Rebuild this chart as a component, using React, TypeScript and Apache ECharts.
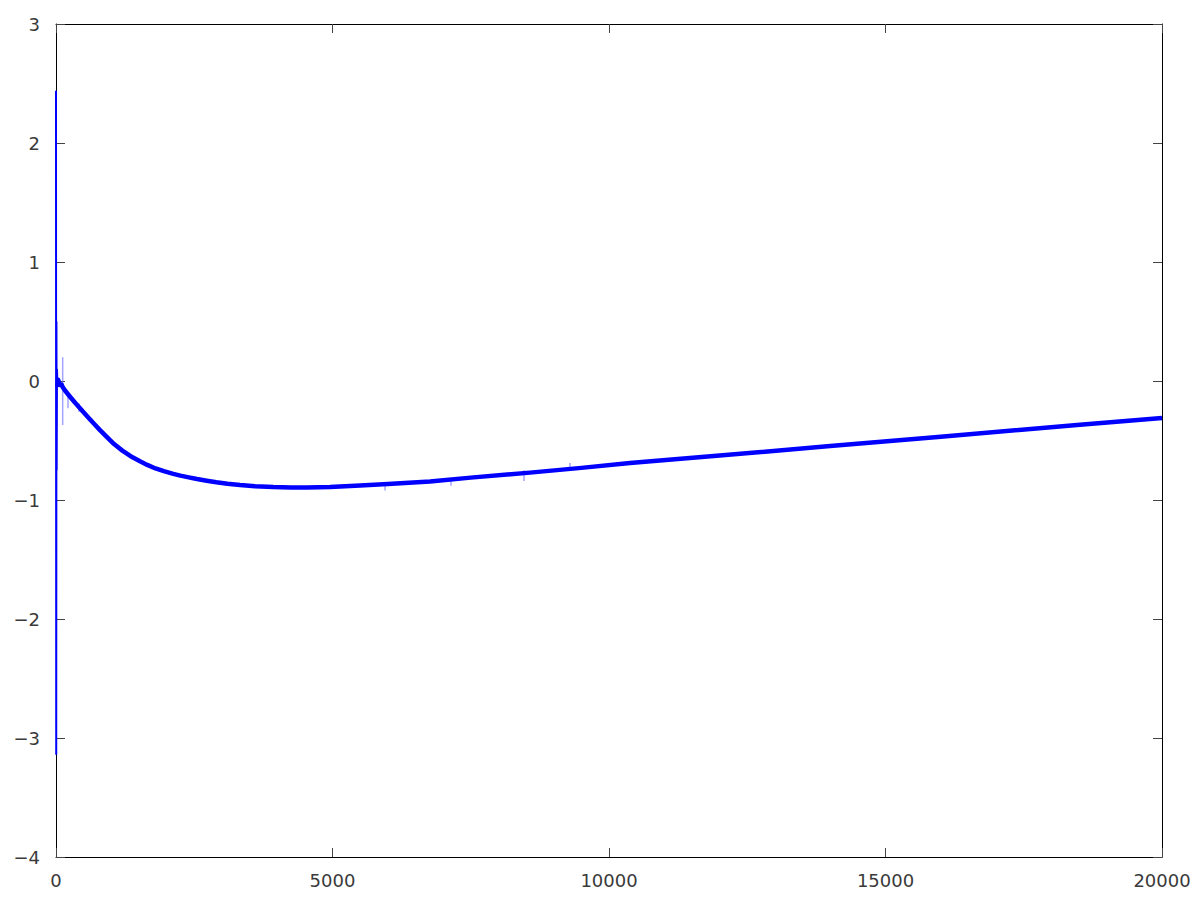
import React, { useEffect, useRef } from "react";
import * as echarts from "echarts";

const xTicks = { min: 0, max: 20000, interval: 5000 };
const yTicks = { min: -4, max: 3, interval: 1 };

// initial transient at x≈0 (thin)
const startSpike: [number, number][] = [
  [0, 2.44], [4, -3.14], [8, 0.5], [12, -0.75], [18, 0.1], [26, -0.05],
];

// main curve
const mainCurve: [number, number][] = [
  [26, -0.05], [40, 0.01], [60, -0.02], [80, -0.03], [100, -0.03], [120, -0.05],
  [163, -0.08], [250, -0.13], [350, -0.185], [494, -0.26], [600, -0.315], [700, -0.365],
  [800, -0.415], [917, -0.47], [1050, -0.53], [1200, -0.585], [1350, -0.632],
  [1519, -0.675], [1650, -0.705], [1800, -0.735], [1950, -0.758], [2121, -0.78],
  [2250, -0.795], [2400, -0.81], [2550, -0.824], [2725, -0.838], [2900, -0.851],
  [3100, -0.863], [3327, -0.874], [3600, -0.884], [3930, -0.891], [4250, -0.894],
  [4533, -0.894], [4955, -0.89], [5500, -0.879], [6000, -0.866], [6763, -0.845],
  [7500, -0.812], [8571, -0.77], [9500, -0.73], [10380, -0.69], [12000, -0.626],
  [14000, -0.547], [16000, -0.468], [18517, -0.368], [20000, -0.31],
];

// faint noise spikes
const noiseSpikes: ([number, number] | [number, string])[] = [
  [121, 0.2], [121, -0.37], [121, "-"],
  [217, -0.09], [217, -0.23], [217, "-"],
  [416, -0.19], [416, -0.26], [416, "-"],
  [5950, -0.87], [5950, -0.92], [5950, "-"],
  [7143, -0.82], [7143, -0.88], [7143, "-"],
  [8463, -0.75], [8463, -0.84], [8463, "-"],
  [9295, -0.69], [9295, -0.73],
];

const fmt = (v: number) => String(v).replace("-", "\u2212");

export default function App() {
  const ref = useRef<HTMLDivElement>(null);
  useEffect(() => {
    if (!ref.current) return;
    const chart = echarts.init(ref.current, undefined, { renderer: "svg" });
    const label = {
      color: "#3a3a3a",
      fontSize: 18,
      fontFamily: "DejaVu Sans",
      formatter: fmt,
    };
    const line = { show: true, lineStyle: { color: "#000", width: 1 } };
    const tick = { show: true, inside: true, length: 9, lineStyle: { color: "#444", width: 1 } };
    chart.setOption({
      animation: false,
      backgroundColor: "#fff",
      grid: { left: 56, right: 38, top: 24, bottom: 43, containLabel: false },
      xAxis: [
        {
          type: "value", ...xTicks, position: "bottom",
          axisLine: { ...line, onZero: false }, axisTick: tick,
          axisLabel: { ...label, margin: 14 }, splitLine: { show: false },
        },
        {
          type: "value", ...xTicks, position: "top",
          axisLine: { ...line, onZero: false }, axisTick: tick,
          axisLabel: { show: false }, splitLine: { show: false },
        },
      ],
      yAxis: [
        {
          type: "value", ...yTicks, position: "left",
          axisLine: { ...line, onZero: false }, axisTick: tick,
          axisLabel: { ...label, margin: 16 }, splitLine: { show: false },
        },
        {
          type: "value", ...yTicks, position: "right",
          axisLine: { ...line, onZero: false }, axisTick: tick,
          axisLabel: { show: false }, splitLine: { show: false },
        },
      ],
      series: [
        {
          type: "line", data: noiseSpikes, showSymbol: false, connectNulls: false,
          lineStyle: { color: "rgba(90,90,255,0.55)", width: 1.5 }, z: 2,
        },
        {
          type: "line", data: startSpike, showSymbol: false,
          lineStyle: { color: "#0000ff", width: 2 }, z: 3,
        },
        {
          type: "line", data: mainCurve, showSymbol: false, smooth: false,
          lineStyle: { color: "#0000ff", width: 4.5, join: "round" }, z: 3,
        },
      ],
    });
    return () => chart.dispose();
  }, []);
  return (
    <div
      ref={ref}
      style={{ position: "fixed", left: 0, top: 0, width: 1200, height: 900, background: "#fff" }}
    />
  );
}
